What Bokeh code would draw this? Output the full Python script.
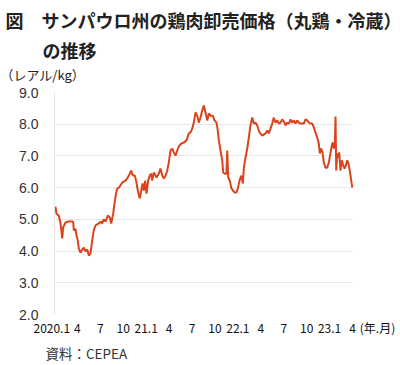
from bokeh.plotting import figure
from bokeh.models import Range1d, FixedTicker, NumeralTickFormatter, Title
from bokeh.embed import file_html
from bokeh.resources import INLINE

# months elapsed since 2020-01 (0 = start of Jan 2020)
months = [0.13, 0.26, 0.56, 0.79, 1.01, 1.14, 1.44, 1.83, 2.36, 2.45, 2.53, 2.75, 2.88,
          3.05, 3.18, 3.40, 3.63, 3.84, 4.06, 4.28, 4.49, 4.71, 4.93, 5.14, 5.37, 5.80,
          6.02, 6.24, 6.45, 6.68, 6.98, 7.24, 7.42, 7.68, 7.85, 8.08, 8.21, 8.42, 8.64,
          8.86, 9.29, 9.52, 9.73, 10.04, 10.25, 10.51, 10.73, 10.90, 11.16, 11.35, 11.52,
          11.69, 11.87, 12.04, 12.26, 12.47, 12.66, 12.79, 13.00, 13.35, 13.65, 13.87,
          14.10, 14.31, 14.53, 14.75, 14.96, 15.18, 15.41, 15.62, 15.84, 16.06, 16.27,
          16.58, 16.92, 17.28, 17.58, 17.80, 18.02, 18.23, 18.46, 18.68, 18.89, 19.11,
          19.33, 19.54, 19.76, 19.99, 20.20, 20.42, 20.72, 20.94, 21.20, 21.37, 21.51,
          21.73, 21.95, 22.08, 22.29, 22.51, 22.60, 22.74, 22.94, 23.13, 23.34, 23.56,
          23.82, 23.99, 24.21, 24.44, 24.65, 24.78, 25.00, 25.22, 25.43, 25.65, 25.88,
          26.09, 26.31, 26.53, 26.83, 27.19, 27.62, 27.84, 28.05, 28.27, 28.49, 28.70,
          28.93, 29.15, 29.36, 29.58, 29.80, 30.01, 30.24, 30.46, 30.67, 30.89, 31.11,
          31.32, 31.54, 31.77, 31.98, 32.20, 32.63, 32.85, 33.07, 33.29, 33.51, 33.73,
          33.94, 34.16, 34.38, 34.59, 34.72, 34.91, 35.08, 35.25, 35.47, 35.69, 35.90,
          36.13, 36.35, 36.48, 36.56, 36.69, 36.78, 36.87, 37.00, 37.13, 37.26, 37.43,
          37.60, 37.79, 37.96, 38.13, 38.31, 38.44, 38.57, 38.74, 38.97]

# wholesale price, real/kg
prices = [5.40, 5.18, 5.12, 4.87, 4.40, 4.75, 4.90, 4.93, 4.93, 4.90, 4.65, 4.70, 4.49,
          4.33, 4.08, 3.95, 4.05, 4.11, 3.99, 4.05, 3.86, 3.92, 4.33, 4.65, 4.81, 4.87,
          4.93, 4.87, 5.00, 4.93, 5.12, 5.06, 4.87, 5.18, 5.50, 5.85, 5.97, 6.00, 6.07,
          6.16, 6.22, 6.29, 6.38, 6.54, 6.38, 6.38, 6.16, 5.91, 5.66, 5.91, 6.13,
          5.91, 6.22, 5.81, 6.22, 6.38, 6.44, 6.22, 6.48, 6.32, 6.44, 6.60,
          6.38, 6.29, 6.38, 6.54, 6.79, 7.17, 7.23, 7.11, 7.01, 7.17, 7.30,
          7.39, 7.42, 7.49, 7.71, 7.74, 7.86, 8.05, 8.37, 8.27, 8.05, 8.21,
          8.43, 8.59, 8.37, 8.12, 8.34, 8.27, 8.27, 8.12, 8.05, 7.80, 7.49,
          7.17, 6.86, 6.48, 6.44, 6.44, 7.17, 6.32, 6.22, 6.00, 5.91, 5.85,
          5.85, 5.97, 6.22, 6.38, 6.13, 6.63, 6.95, 7.23, 7.58, 7.96, 8.21,
          8.02, 8.05, 7.96, 7.74, 7.64, 7.71, 7.80, 7.71, 7.86, 8.02, 8.21,
          8.05, 8.12, 8.02, 8.05, 8.15, 8.09, 7.96, 8.05, 8.02, 8.15, 8.05,
          8.12, 8.02, 8.12, 8.05, 8.02, 8.02, 8.15, 8.12, 8.05, 8.02, 8.02,
          7.90, 7.74, 7.58, 7.39, 7.08, 7.23, 7.11, 6.79, 6.63, 6.63, 6.79,
          7.11, 7.39, 7.42, 7.23, 7.39, 8.24, 6.54, 7.08, 6.95, 7.11, 6.54,
          6.86, 6.70, 6.60, 6.70, 6.86, 6.79, 6.63, 6.38, 6.00]

tick_months = [0, 3, 6, 9, 12, 15, 18, 21, 24, 27, 30, 33, 36, 39]
tick_labels = ["2020.1\u00a0\u00a0", "4", "7", "10", "21.1", "4", "7", "10",
               "22.1", "4", "7", "10", "23.1", "4"]
y_ticks = [2, 3, 4, 5, 6, 7, 8, 9]

title1 = "図　サンパウロ州の鶏肉卸売価格（丸鶏・冷蔵）"
title2 = "の推移"
unit = "（レアル/kg）"
xunit = "(年.月)"
source = "資料：CEPEA"

JP = "Noto Sans CJK JP"

# layout: data area 298 px wide for 39 months; canvas continues 48 px to the right
FRAME_W, DATA_W = 346, 298
x_end = tick_months[-1] * FRAME_W / DATA_W
xunit_pos = tick_months[-1] + 25 * tick_months[-1] / DATA_W

p = figure(width=400, height=365, output_backend="svg", toolbar_location=None,
           x_range=Range1d(0, x_end), y_range=Range1d(2, 9),
           min_border_left=54, min_border_right=0, min_border_top=92,
           min_border_bottom=51)
p.outline_line_color = None
p.background_fill_color = "white"

p.xgrid.visible = False
p.ygrid.ticker = FixedTicker(ticks=y_ticks)
try:
    p.ygrid.cross_bounds = (tick_months[0], tick_months[-1])
    p.ygrid.grid_line_color = "#e6e6e6"
    p.ygrid.grid_line_width = 1
except Exception:
    p.ygrid.visible = False
    p.segment(x0=[tick_months[0]] * len(y_ticks), x1=[tick_months[-1]] * len(y_ticks),
              y0=y_ticks, y1=y_ticks, line_color="#e6e6e6", line_width=1)

p.line(months, prices, line_color="#d9441c", line_width=2)

ya = p.yaxis[0]
ya.ticker = FixedTicker(ticks=y_ticks)
ya.formatter = NumeralTickFormatter(format="0.0")
ya.axis_line_color = "#e3e3e3"
ya.major_tick_line_color = None
ya.minor_tick_line_color = None
ya.major_tick_out = 0
ya.major_tick_in = 0
ya.major_label_text_font = "Liberation Sans"
ya.major_label_text_font_size = "14px"
ya.major_label_text_color = "#333333"
ya.major_label_standoff = 16

xa = p.xaxis[0]
xa.ticker = FixedTicker(ticks=tick_months + [xunit_pos])
overrides = {m: s for m, s in zip(tick_months, tick_labels)}
overrides[xunit_pos] = xunit
xa.major_label_overrides = overrides
xa.axis_line_color = None
xa.major_tick_line_color = None
xa.minor_tick_line_color = None
xa.major_tick_out = 0
xa.major_tick_in = 0
xa.major_label_text_font = JP
xa.major_label_text_font_size = "12px"
xa.major_label_text_color = "#111111"
xa.major_label_standoff = 4

def title(text, size, offset, standoff, bold=False, color="#222222"):
    return Title(text=text, align="left", offset=offset, standoff=standoff,
                 text_font=JP, text_font_size=size,
                 text_font_style="bold" if bold else "normal", text_color=color)

# above panels: first added sits nearest the plot area
p.add_layout(title(" ", "4px", 0, 0), "above")          # small gap above the plot
p.add_layout(title(unit, "13px", -54, 1), "above")
p.add_layout(title(title2, "18px", -12, 0, True), "above")
p.add_layout(title(title1, "18px", -49, 4, True), "above")
p.add_layout(title(source, "13.5px", -9, 5, color="#333333"), "below")

open("out.html", "w").write(file_html(p, INLINE))
